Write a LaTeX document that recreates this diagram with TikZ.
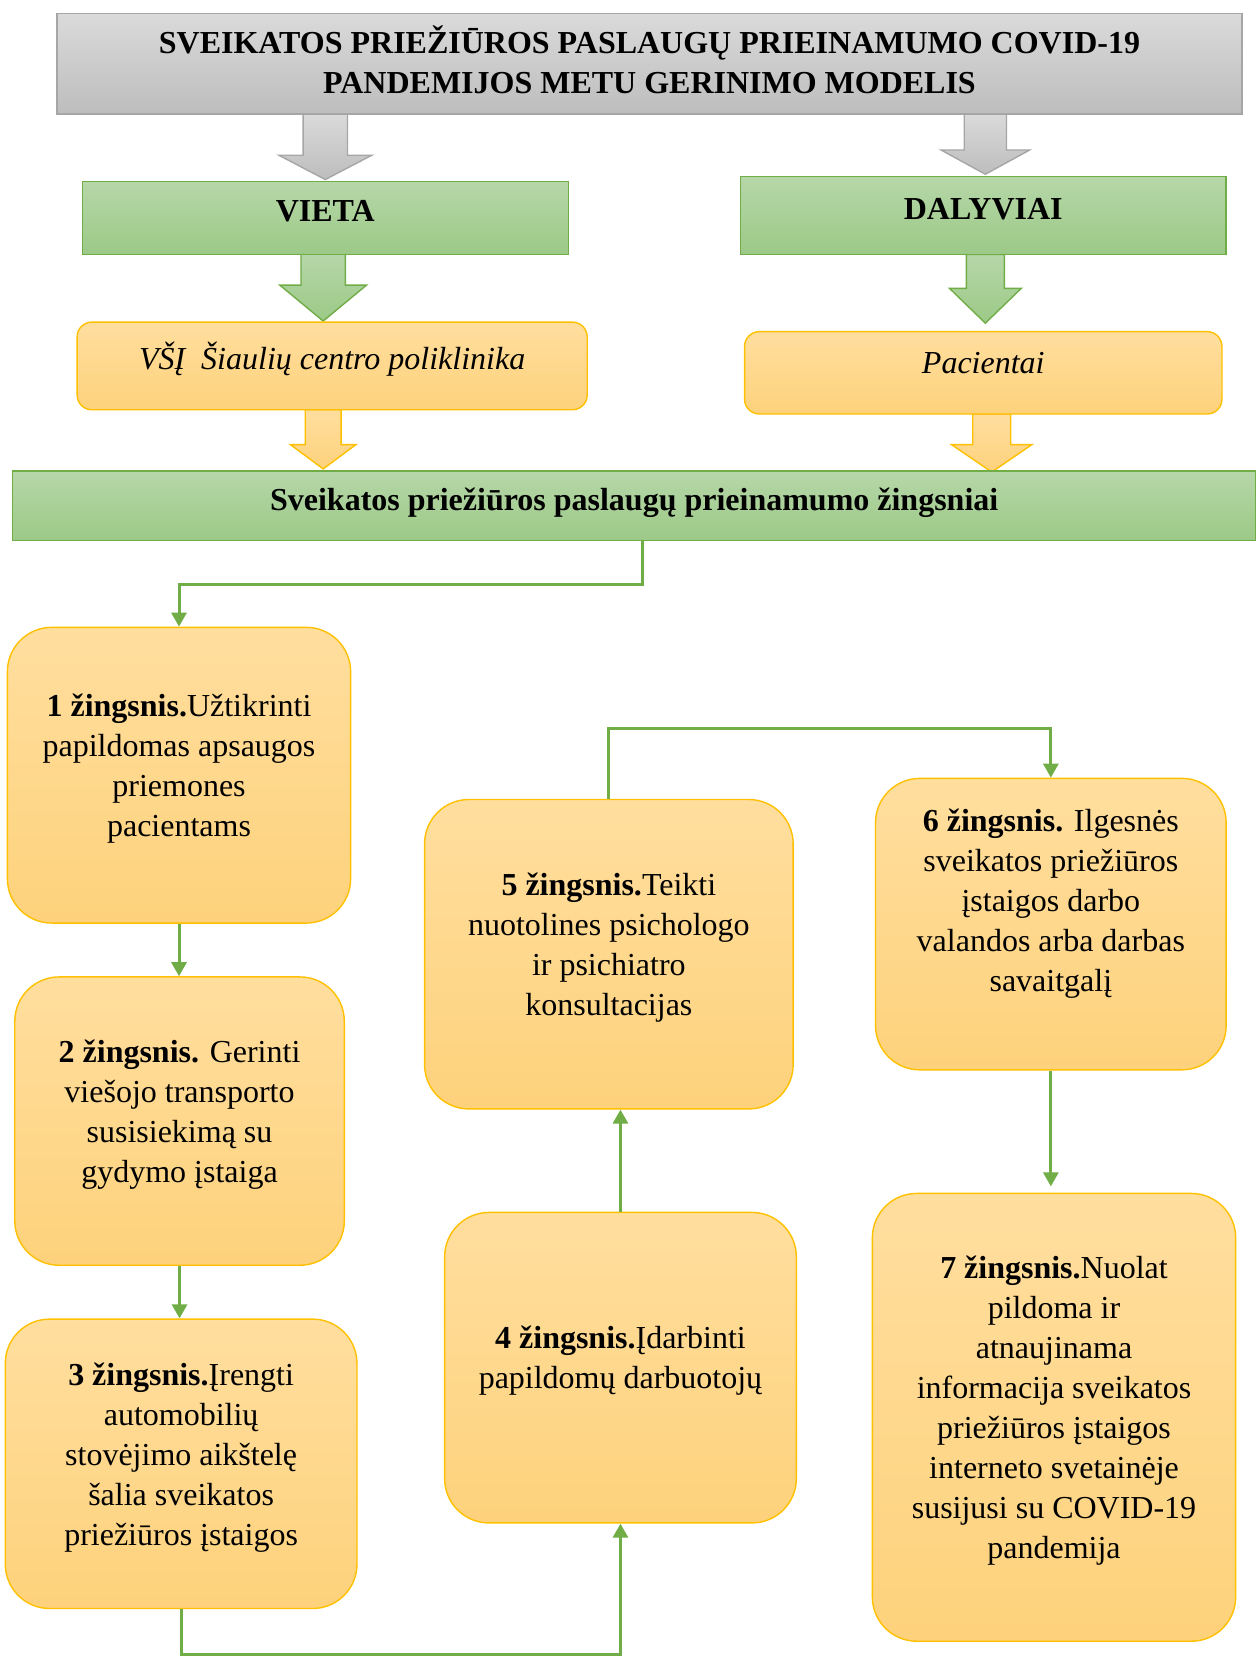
\documentclass[tikz,border=0pt]{standalone}
\usepackage{fontspec}
\setmainfont{Liberation Serif}
\usepackage{tikz}
\usetikzlibrary{arrows.meta}
\usetikzlibrary{calc}
\usetikzlibrary{positioning}

\newlength\px
\setlength\px{0.5282pt}

\definecolor{grayline}{HTML}{A6A6A6}
\definecolor{graytop}{HTML}{DADADA}
\definecolor{graybot}{HTML}{BDBDBD}
\definecolor{greenline}{HTML}{70AD47}
\definecolor{greentop}{HTML}{B6D7A8}
\definecolor{greenbot}{HTML}{9CC987}
\definecolor{goldline}{HTML}{FFC000}
\definecolor{goldtop}{HTML}{FFDE9E}
\definecolor{goldbot}{HTML}{FED27C}

\tikzset{
	basefont/.style={font=\fontsize{16}{20}\selectfont},
	graybox/.style={basefont, draw=grayline, line width=0.7pt, top color=graytop, bottom color=graybot, align=center, inner sep=0pt, text depth=4pt},
	greenbox/.style={basefont, draw=greenline, line width=0.7pt, top color=greentop, bottom color=greenbot, align=center, inner sep=0pt, text depth=7pt},
	goldbox/.style={basefont, draw=goldline, line width=0.7pt, top color=goldtop, bottom color=goldbot, align=center, inner sep=0pt, rounded corners=14\px, text depth=10pt},
	stepbox/.style={basefont, draw=goldline, line width=0.7pt, top color=goldtop, bottom color=goldbot, align=center, inner sep=0pt, rounded corners=42\px, text depth=10pt},
	link/.style={draw=greenline, line width=1.5pt, -{Triangle[length=7pt,width=7.5pt]}},
}

\begin{document}
\begin{tikzpicture}[x=\px, y=-\px]
		\useasboundingbox (0,0) rectangle (1189,1568);
		
		% block arrows between the upper boxes
		\path[draw=grayline, line width=0.7pt, top color=graytop, bottom color=graybot]
			(287,108) -- (329,108) -- (329,147) -- (352,147) -- (308,170) -- (264,147) -- (287,147) -- cycle;
		\path[draw=grayline, line width=0.7pt, top color=graytop, bottom color=graybot]
			(913,108) -- (953,108) -- (953,142) -- (975,142) -- (933,165) -- (891,142) -- (913,142) -- cycle;
		\path[draw=greenline, line width=0.7pt, top color=greentop, bottom color=greenbot]
			(285,240) -- (327,240) -- (327,270) -- (347,270) -- (306,304) -- (265,270) -- (285,270) -- cycle;
		\path[draw=greenline, line width=0.7pt, top color=greentop, bottom color=greenbot]
			(915,241) -- (951,241) -- (951,273) -- (967,273) -- (933,306) -- (899,273) -- (915,273) -- cycle;
		\path[draw=goldline, line width=0.7pt, top color=goldtop, bottom color=goldbot]
			(289,388) -- (323,388) -- (323,421) -- (337,421) -- (306,444) -- (275,421) -- (289,421) -- cycle;
		\path[draw=goldline, line width=0.7pt, top color=goldtop, bottom color=goldbot]
			(921,392) -- (957,392) -- (957,421) -- (977,421) -- (939,447) -- (901,421) -- (921,421) -- cycle;
		
		% title, place and participants
		\node[graybox, minimum width=1122\px, minimum height=95\px] (title) at (615,60.5)
			{\textbf{SVEIKATOS PRIEŽIŪROS PASLAUGŲ PRIEINAMUMO COVID-19}\\\textbf{PANDEMIJOS METU GERINIMO MODELIS}};
		\node[greenbox, minimum width=460\px, minimum height=69\px] (vieta) at (308,206.5) {\textbf{VIETA}};
		\node[greenbox, minimum width=460\px, minimum height=74\px] (dalyviai) at (931,204) {\textbf{DALYVIAI}};
		\node[goldbox, minimum width=483\px, minimum height=83\px] (vsi) at (314.5,346.5) {\textit{VŠĮ\ \ Šiaulių centro poliklinika}};
		\node[goldbox, minimum width=452\px, minimum height=78\px] (pac) at (931,353) {\textit{Pacientai}};
		\node[greenbox, minimum width=1177\px, minimum height=66\px] (bar) at (600.5,479)
			{\textbf{Sveikatos priežiūros paslaugų prieinamumo žingsniai}};
		
		% steps
		\node[stepbox, minimum width=325\px, minimum height=280\px] (step1) at (169.5,734)
			{\textbf{1 žingsnis.}Užtikrinti\\papildomas apsaugos\\priemones\\pacientams};
		\node[stepbox, minimum width=312\px, minimum height=273\px] (step2) at (170,1061.5)
			{\textbf{2 žingsnis.} Gerinti\\viešojo transporto\\susisiekimą su\\gydymo įstaiga};
		\node[stepbox, minimum width=333\px, minimum height=274\px] (step3) at (171.5,1386)
			{\textbf{3 žingsnis.}Įrengti\\automobilių\\stovėjimo aikštelę\\šalia sveikatos\\priežiūros įstaigos};
		\node[stepbox, minimum width=333\px, minimum height=294\px] (step4) at (587.5,1295)
			{\textbf{4 žingsnis.}Įdarbinti\\papildomų darbuotojų};
		\node[stepbox, minimum width=349\px, minimum height=293\px] (step5) at (576.5,903.5)
			{\textbf{5 žingsnis.}Teikti\\nuotolines psichologo\\ir psichiatro\\konsultacijas};
		\node[stepbox, minimum width=332\px, minimum height=276\px, text depth=24pt] (step6) at (995,875)
			{\textbf{6 žingsnis.} Ilgesnės\\sveikatos priežiūros\\įstaigos darbo\\valandos arba darbas\\savaitgalį};
		\node[stepbox, minimum width=344\px, minimum height=424\px] (step7) at (998,1342)
			{\textbf{7 žingsnis.}Nuolat\\pildoma ir\\atnaujinama\\informacija sveikatos\\priežiūros įstaigos\\interneto svetainėje\\susijusi su COVID-19\\pandemija};
		
		% connectors between the steps
		\draw[link] ($(bar.south)+(8,0)$) -- ++(0,41) -| (step1.north);
		\draw[link] (step1.south) -- (step1.south |- step2.north);
		\draw[link] (step2.south) -- (step2.south |- step3.north);
		\draw[link] (step3.south) -- ++(0,43) -| (step4.south);
		\draw[link] (step4.north) -- (step4.north |- step5.south);
		\draw[link] (step5.north) -- ++(0,-67) -| (step6.north);
		\draw[link] (step6.south) -- ($(step6.south |- step7.north)+(0,-6)$);
	\end{tikzpicture}
\end{document}
